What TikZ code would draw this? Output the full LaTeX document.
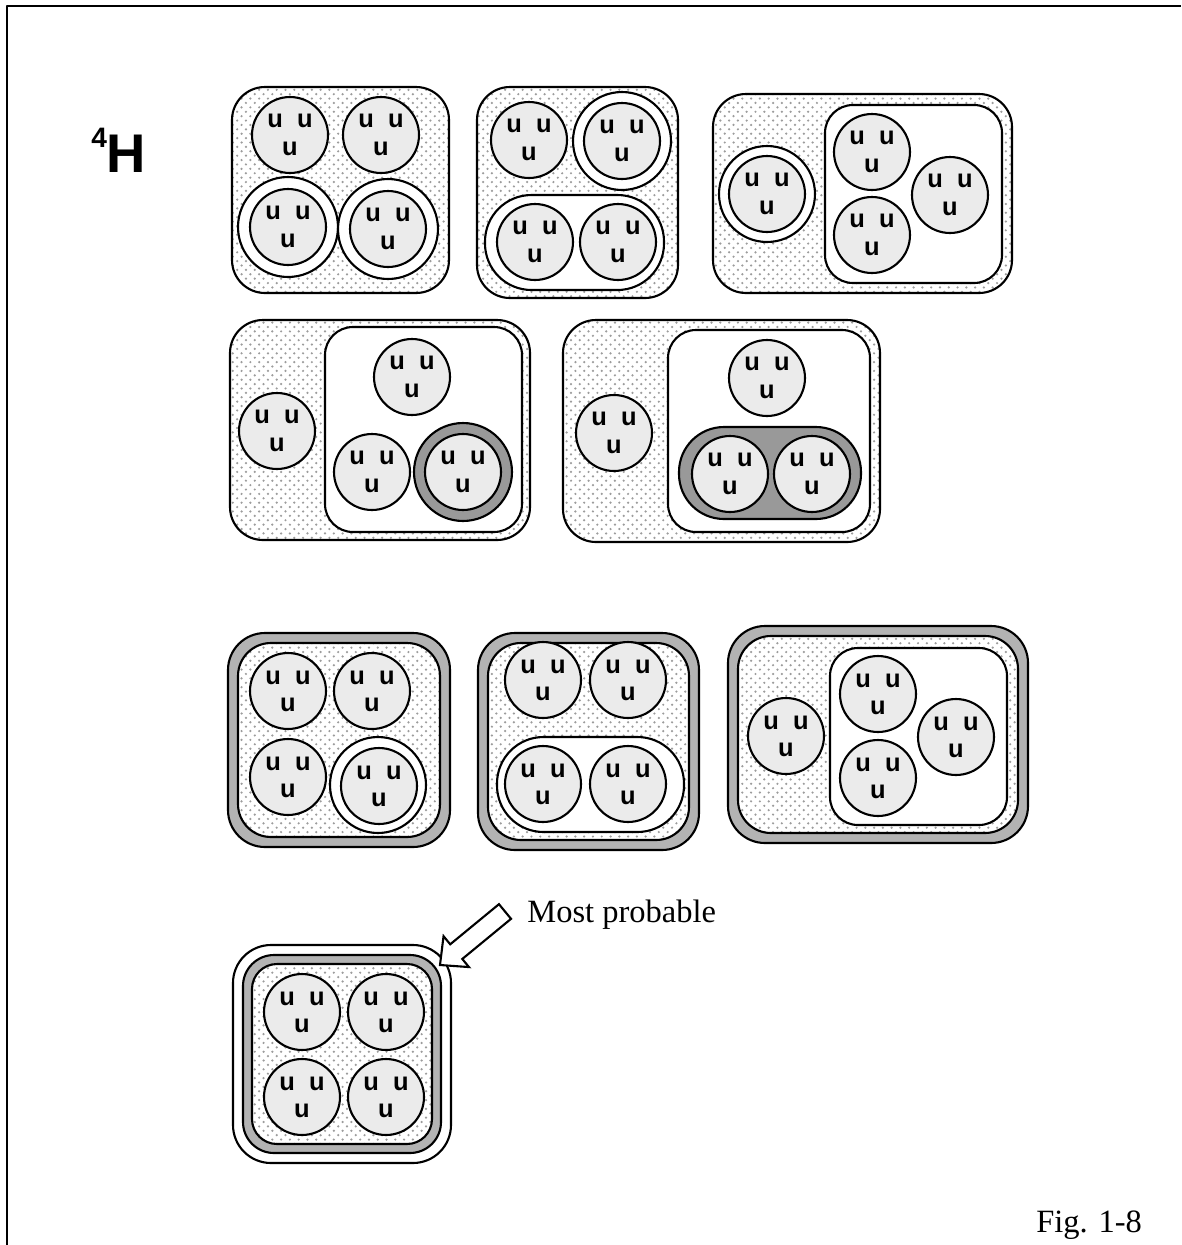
\documentclass[tikz,border=0pt]{standalone}
\usepackage{fontspec}
\setmainfont{Liberation Serif}
\setsansfont{Liberation Sans}
\usepackage{tikz}
\usetikzlibrary{calc,patterns}
\definecolor{hadgray}{HTML}{EBEBEB}
\definecolor{bandgray}{HTML}{B3B3B3}
\definecolor{ringgray}{HTML}{999999}
\definecolor{dotgray}{HTML}{9C9C9C}
\pgfdeclarepatternformonly{nucdots}{\pgfqpoint{-1pt}{-1pt}}{\pgfqpoint{4pt}{4pt}}{\pgfqpoint{5pt}{5pt}}{%
  \pgfpathcircle{\pgfqpoint{0pt}{0pt}}{.7pt}%
  \pgfpathcircle{\pgfqpoint{2.5pt}{2.5pt}}{.7pt}%
  \pgfusepath{fill}}
\newcommand{\uuu}{u\hspace{0.55em}u\\[3pt]u}
\tikzset{
    every picture/.style={line join=round},
    frameline/.style={draw=black,line width=1.4pt},
    quark/.style={circle,draw=black,fill=hadgray,line width=1.2pt,
      minimum size=1.52cm,inner sep=0pt,align=center,
      font=\sffamily\bfseries\fontsize{14.5}{12.5}\selectfont},
    halo/.style={draw=black,fill=white,line width=1.2pt},
    darkhalo/.style={halo,fill=ringgray},
    dotbox/.style={draw=black,line width=1.2pt,preaction={fill=white},pattern=nucdots,
      pattern color=dotgray,rounded corners=0.66cm},
    bandbox/.style={draw=black,line width=1.2pt,fill=bandgray,rounded corners=0.74cm},
    plainbox/.style={draw=black,line width=1.2pt,fill=white,rounded corners=0.56cm},
    pairbox/.style={draw=black,line width=1.2pt,fill=white,rounded corners=0.93cm},
    darkpair/.style={pairbox,fill=ringgray,rounded corners=0.9cm},
    bigarrow/.style={draw=black,line width=1.2pt,fill=white,line join=miter},
    serifnote/.style={font=\fontsize{18.5}{22}\selectfont,inner sep=0pt},
    nuclabel/.style={font=\sffamily\bfseries\fontsize{31}{31}\selectfont,inner sep=0pt}
}
\begin{document}
\begin{tikzpicture}[x=0.02cm,y=-0.02cm]
  \useasboundingbox (0,0) rectangle (1181,1245);
  \draw[frameline] (7,1245) -- (7,6) -- (1181,6);
  \node[nuclabel,anchor=base west] (nuc) at (91,172) {\raisebox{14pt}{\fontsize{16}{16}\selectfont 4}H};

  % first row
  \draw[dotbox] (232,87) rectangle (449,293);
  \draw[halo] (288,227) circle[radius=1cm];
  \draw[halo] (388,229) circle[radius=1cm];
  \node[quark] (a1) at (290,135) {\uuu};
  \node[quark] (a2) at (381,135) {\uuu};
  \node[quark] (a3) at (288,227) {\uuu};
  \node[quark] (a4) at (388,229) {\uuu};

  \draw[dotbox] (477,87) rectangle (678,298);
  \draw[halo] (622,141) circle[radius=0.98cm];
  \draw[pairbox] (485,195) rectangle (664,290);
  \node[quark] (b1) at (529,140) {\uuu};
  \node[quark] (b2) at (622,141) {\uuu};
  \node[quark] (b3) at (535,242) {\uuu};
  \node[quark] (b4) at (618,242) {\uuu};

  \draw[dotbox] (713,94) rectangle (1012,293);
  \draw[halo] (767,194) circle[radius=0.96cm];
  \draw[plainbox] (825,105) rectangle (1002,283);
  \node[quark] (c1) at (767,194) {\uuu};
  \node[quark] (c2) at (872,152) {\uuu};
  \node[quark] (c3) at (872,235) {\uuu};
  \node[quark] (c4) at (950,195) {\uuu};

  % second row
  \draw[dotbox] (230,320) rectangle (530,540);
  \draw[plainbox] (325,327) rectangle (522,532);
  \draw[darkhalo] (463,472) circle[radius=0.98cm];
  \node[quark] (d1) at (277,431) {\uuu};
  \node[quark] (d2) at (412,377) {\uuu};
  \node[quark] (d3) at (372,472) {\uuu};
  \node[quark] (d4) at (463,472) {\uuu};

  \draw[dotbox] (563,320) rectangle (880,542);
  \draw[plainbox] (668,330) rectangle (870,532);
  \draw[darkpair] (679,427) rectangle (861,519);
  \node[quark] (e1) at (614,433) {\uuu};
  \node[quark] (e2) at (767,378) {\uuu};
  \node[quark] (e3) at (730,474) {\uuu};
  \node[quark] (e4) at (812,474) {\uuu};

  % third row
  \draw[bandbox] (228,633) rectangle (450,847);
  \draw[dotbox] (238,643) rectangle (440,837);
  \draw[halo] (378,785) circle[radius=0.96cm];
  \node[quark] (f1) at (288,691) {\uuu};
  \node[quark] (f2) at (372,691) {\uuu};
  \node[quark] (f3) at (288,777) {\uuu};
  \node[quark] (f4) at (379,786) {\uuu};

  \draw[bandbox] (478,633) rectangle (699,850);
  \draw[dotbox] (488,643) rectangle (689,840);
  \draw[pairbox] (497,737) rectangle (684,832);
  \node[quark] (g1) at (543,680) {\uuu};
  \node[quark] (g2) at (628,680) {\uuu};
  \node[quark] (g3) at (543,784) {\uuu};
  \node[quark] (g4) at (628,784) {\uuu};

  \draw[bandbox] (728,626) rectangle (1028,843);
  \draw[dotbox] (738,636) rectangle (1018,833);
  \draw[plainbox] (830,648) rectangle (1007,825);
  \node[quark] (k1) at (786,736) {\uuu};
  \node[quark] (k2) at (878,694) {\uuu};
  \node[quark] (k3) at (878,778) {\uuu};
  \node[quark] (k4) at (956,737) {\uuu};

  % most probable
  \draw[plainbox,rounded corners=0.76cm] (233,945) rectangle (451,1163);
  \draw[bandbox,rounded corners=0.62cm] (243,955) rectangle (441,1153);
  \draw[dotbox,rounded corners=0.5cm] (252,964) rectangle (432,1144);
  \node[quark] (m1) at (302,1012) {\uuu};
  \node[quark] (m2) at (386,1012) {\uuu};
  \node[quark] (m3) at (302,1097) {\uuu};
  \node[quark] (m4) at (386,1097) {\uuu};

  \coordinate (tl) at (505,911.5);
  \coordinate (tp) at (440,965);
  \coordinate (nk) at ($(tl)!0.75!(tp)$);
  \draw[bigarrow] ($(tl)!0.19cm!90:(tp)$) -- ($(nk)!0.19cm!-90:(tl)$)
    -- ($(nk)!0.4cm!-90:(tl)$) -- (tp) -- ($(nk)!0.4cm!90:(tl)$)
    -- ($(nk)!0.19cm!90:(tl)$) -- ($(tl)!0.19cm!-90:(tp)$) -- cycle;
  \node[serifnote,anchor=base west] (mp) at (527,922) {Most probable};

  \node[serifnote,anchor=base west] (fig) at (1036,1232) {Fig. 1-8};
\end{tikzpicture}
\end{document}
